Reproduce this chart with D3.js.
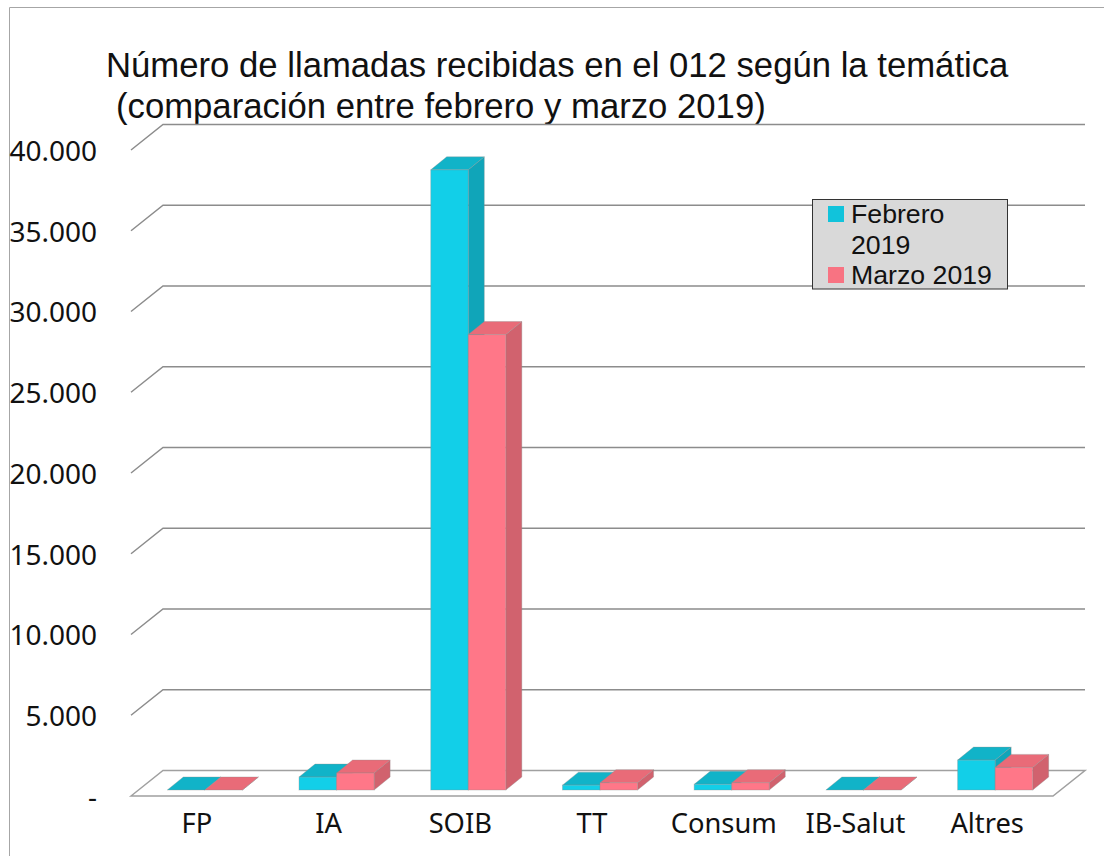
<!DOCTYPE html>
<html>
<head>
<meta charset="utf-8">
<script src="https://cdn.jsdelivr.net/npm/d3@7"></script>
<style>
  html, body { margin: 0; padding: 0; background: #fff; }
  svg { display: block; }
  .axis text { font-family: "Noto Sans", sans-serif; fill: #111; }
  .axis-y text { font-size: 28px; }
  .axis-x text { font-size: 27.3px; }
  .title, .legend-label { font-family: "Liberation Sans", sans-serif; fill: #111; }
</style>
</head>
<body>
<div id="canvas"></div>
<script>
const categories = ["FP", "IA", "SOIB", "TT", "Consum", "IB-Salut", "Altres"];
const seriesNames = ["Febrero 2019", "Marzo 2019"];
const febrero = [0, 800, 38400, 300, 350, 0, 1850];
const marzo = [0, 1050, 28200, 450, 450, 0, 1400];
const yTicks = [0, 5000, 10000, 15000, 20000, 25000, 30000, 35000, 40000];

const width = 1104;
const height = 856;

// floor of the 3d box, front edge and how far the back wall is shifted
const frontLeft = 131, frontRight = 1053, floorY = 796, topY = 150;
const wallDx = 32, wallDy = -25.5;
// bars stand a little way in from the front edge
const barBase = 790, barShift = 8;
const barDx = 16, barDy = -13;

const colors = [
  { front: "#12cfe8", top: "#11b3c8", side: "#10a5b9" },
  { front: "#ff7788", top: "#e96b78", side: "#d1626e" }
];

const svg = d3.select("#canvas").append("svg")
  .attr("width", width)
  .attr("height", height);

// outer chart border, only left and top are visible
svg.append("path")
  .attr("d", `M9.5,${height}V7.5H${width}`)
  .attr("fill", "none")
  .attr("stroke", "#a6a6a6");

const title = svg.append("text").attr("class", "title").attr("font-size", 34.7);
title.append("tspan").attr("x", 106).attr("y", 77)
  .text("Número de llamadas recibidas en el 012 según la temática");
title.append("tspan").attr("x", 116).attr("y", 118)
  .text("(comparación entre febrero y marzo 2019)");

const y = d3.scaleLinear().domain([0, 40000]).range([floorY, topY]);
const x0 = d3.scaleBand().domain(categories).range([frontLeft, frontRight]).paddingInner(0.43).paddingOuter(0.215);
const x1 = d3.scaleBand().domain(seriesNames).range([0, x0.bandwidth()]);

// bars use the same value scale, moved back to the bar plane
const barY = v => y(v) - (floorY - barBase);

// gridlines: slanted piece on the side wall, then along the back wall
svg.append("g").selectAll("path")
  .data(yTicks.slice(1))
  .enter()
  .append("path")
  .attr("d", d => `M${frontLeft},${y(d)}l${wallDx},${wallDy}H${frontRight + wallDx}`)
  .attr("fill", "none")
  .attr("stroke", "#8c8c8c")
  .attr("stroke-width", 1.5);

// floor
svg.append("path")
  .attr("d", `M${frontLeft},${floorY}l${wallDx},${wallDy}H${frontRight + wallDx}l${-wallDx},${-wallDy}Z`)
  .attr("fill", "#fff")
  .attr("stroke", "#a0a0a0")
  .attr("stroke-width", 1.5);

const rows = categories.map((c, i) => ({ cat: c, values: [febrero[i], marzo[i]] }));

const groups = svg.append("g").selectAll("g")
  .data(rows)
  .enter()
  .append("g")
  .attr("transform", d => `translate(${x0(d.cat) + barShift},0)`);

const edge = "rgba(140,140,140,0.35)";

groups.each(function (row) {
  const g = d3.select(this);
  row.values.forEach((v, s) => {
    const left = x1(seriesNames[s]);
    const w = x1.bandwidth();
    const top = barY(v);
    const c = colors[s];
    // side face
    g.append("path")
      .attr("d", `M${left + w},${top}l${barDx},${barDy}V${barBase + barDy}l${-barDx},${-barDy}Z`)
      .attr("fill", c.side)
      .attr("stroke", edge);
    // top face
    g.append("path")
      .attr("d", `M${left},${top}l${barDx},${barDy}h${w}l${-barDx},${-barDy}Z`)
      .attr("fill", c.top)
      .attr("stroke", edge);
    // front face
    g.append("rect")
      .attr("x", left)
      .attr("y", top)
      .attr("width", w)
      .attr("height", barBase - top)
      .attr("fill", c.front)
      .attr("stroke", edge);
  });
});

const yAxis = d3.axisLeft(y)
  .tickValues(yTicks)
  .tickSize(0)
  .tickPadding(34)
  .tickFormat(d => d === 0 ? "-" : d3.format(",")(d).replace(",", "."));

svg.append("g")
  .attr("class", "axis axis-y")
  .attr("transform", `translate(${frontLeft},1.5)`)
  .call(yAxis)
  .call(g => g.select(".domain").remove());

const xAxis = d3.axisBottom(x0).tickSize(0).tickPadding(18);

svg.append("g")
  .attr("class", "axis axis-x")
  .attr("transform", `translate(0,${floorY})`)
  .call(xAxis)
  .call(g => g.select(".domain").remove());

// legend sits on top of the back wall
const legend = svg.append("g");
legend.append("rect")
  .attr("x", 812.5).attr("y", 199.5)
  .attr("width", 195).attr("height", 89.5)
  .attr("fill", "#d9d9d9")
  .attr("stroke", "#333");

legend.selectAll(".swatch")
  .data(seriesNames)
  .enter()
  .append("rect")
  .attr("class", "swatch")
  .attr("x", 828)
  .attr("y", (d, i) => i === 0 ? 206 : 267)
  .attr("width", 16)
  .attr("height", 16)
  .attr("fill", (d, i) => i === 0 ? "#11c3db" : "#f87382");

const legendText = legend.append("text").attr("class", "legend-label").attr("font-size", 26.7);
legendText.append("tspan").attr("x", 851).attr("y", 223).text("Febrero");
legendText.append("tspan").attr("x", 851).attr("y", 254).text("2019");
legendText.append("tspan").attr("x", 851).attr("y", 284).text("Marzo 2019");
</script>
</body>
</html>
